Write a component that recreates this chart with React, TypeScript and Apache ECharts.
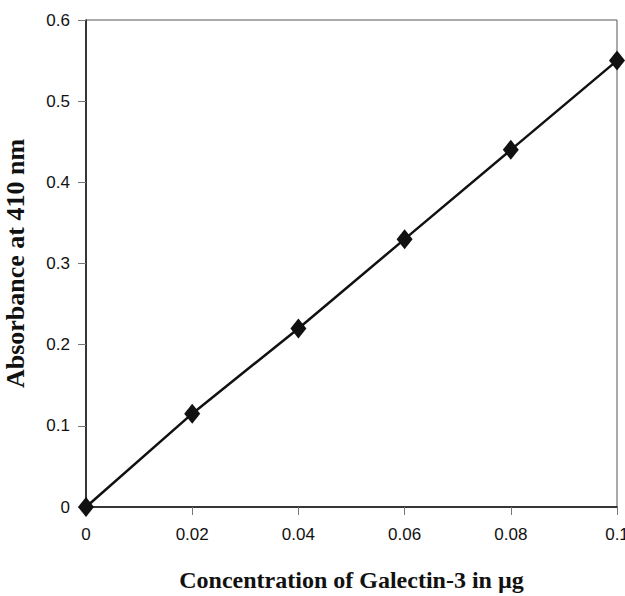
import React, { useEffect, useRef } from "react";
import * as echarts from "echarts";

const concentrations = [0, 0.02, 0.04, 0.06, 0.08, 0.1];
const absorbance = [0, 0.115, 0.22, 0.33, 0.44, 0.55];

export default function App() {
  const ref = useRef<HTMLDivElement>(null);
  useEffect(() => {
    if (!ref.current) return;
    const chart = echarts.init(ref.current, null, { renderer: "svg" });
    chart.setOption({
      animation: false,
      backgroundColor: "#fff",
      grid: {
        left: 86,
        top: 20,
        right: 8,
        bottom: 89,
        show: true,
        borderColor: "#555",
        borderWidth: 1,
        outerBoundsMode: "none",
        containLabel: false,
      },
      xAxis: {
        type: "value",
        min: 0,
        max: 0.1,
        interval: 0.02,
        name: "Concentration of Galectin-3 in µg",
        nameLocation: "middle",
        nameGap: 61,
        nameTextStyle: {
          fontFamily: "Liberation Serif",
          fontWeight: "bold",
          fontSize: 24,
          color: "#111",
        },
        axisLine: { show: true, lineStyle: { color: "#111", width: 1.5 } },
        axisTick: { show: true, inside: false, length: 8, lineStyle: { color: "#777" } },
        axisLabel: {
          fontFamily: "Liberation Sans",
          fontSize: 17,
          color: "#111",
          margin: 19,
          formatter: (v: number) => String(parseFloat(v.toFixed(2))),
        },
        splitLine: { show: false },
      },
      yAxis: {
        type: "value",
        min: 0,
        max: 0.6,
        interval: 0.1,
        name: "Absorbance at 410 nm",
        nameLocation: "middle",
        nameGap: 58,
        nameTextStyle: {
          fontFamily: "Liberation Serif",
          fontWeight: "bold",
          fontSize: 26,
          color: "#111",
        },
        axisLine: { show: true, lineStyle: { color: "#111", width: 1.5 } },
        axisTick: { show: true, inside: false, length: 8, lineStyle: { color: "#777" } },
        axisLabel: {
          fontFamily: "Liberation Sans",
          fontSize: 17,
          color: "#111",
          margin: 16,
          formatter: (v: number) => String(parseFloat(v.toFixed(1))),
        },
        splitLine: { show: false },
      },
      series: [
        {
          type: "line",
          data: concentrations.map((c, i) => [c, absorbance[i]]),
          symbol: "diamond",
          symbolSize: [16, 20],
          lineStyle: { color: "#111", width: 2.5 },
          itemStyle: { color: "#111" },
          clip: false,
        },
      ],
    });
    return () => chart.dispose();
  }, []);
  return (
    <div
      ref={ref}
      style={{ position: "fixed", left: 0, top: 0, width: 625, height: 596 }}
    />
  );
}
